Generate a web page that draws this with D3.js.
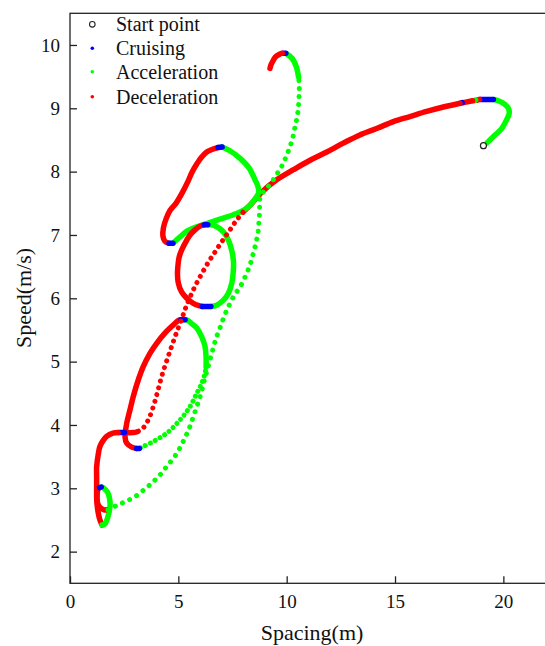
<!DOCTYPE html>
<html>
<head>
<meta charset="utf-8">
<script src="https://cdn.jsdelivr.net/npm/d3@7"></script>
<style>
  body { margin: 0; background: #fff; }
  svg text { font-family: "Liberation Serif", "Times New Roman", Times, serif !important; }
</style>
</head>
<body>
<div id="chart"></div>
<script>
// chart size
var chart_width = 545;
var chart_height = 646;

// --- data: [spacing (m), speed (m/s)] ---
var xTicks = [0, 5, 10, 15, 20];
var yTicks = [2, 3, 4, 5, 6, 7, 8, 9, 10];
var legendLabels = ["Start point", "Cruising", "Acceleration", "Deceleration"];

var startPoint = [19.08, 8.41];

// first climb, cruise and the long slow braking arc
var accStart = [[19.23, 8.45], [19.38, 8.50], [19.62, 8.58], [19.92, 8.68], [20.15, 8.82], [20.27, 8.92], [20.23, 9.0], [20.0, 9.08], [19.69, 9.13], [19.54, 9.14]];
var cruiseTop = [[19.54, 9.14], [18.95, 9.14]];
var decTop1 = [[18.9, 9.14], [18.8, 9.13]];
var accTop = [[18.72, 9.13], [18.66, 9.12]];
var decTop2 = [[18.58, 9.12], [18.16, 9.09]];
var cruiseTop2 = [[18.1, 9.09], [18.02, 9.08]];
var decArc = [[18.0, 9.08], [17.23, 9.02], [16.46, 8.95], [15.69, 8.87], [14.92, 8.79], [14.15, 8.68], [13.38, 8.58], [12.61, 8.45], [11.85, 8.31], [11.08, 8.18], [10.31, 8.03], [9.54, 7.87], [8.86, 7.68], [8.31, 7.47], [7.98, 7.36]];
var decDive = [[7.98, 7.36], [7.66, 7.22], [7.34, 7.06], [7.02, 6.90], [6.69, 6.73], [6.37, 6.56], [6.05, 6.37], [5.77, 6.19], [5.54, 6.02], [5.35, 5.86], [5.17, 5.69], [4.94, 5.48], [4.71, 5.26], [4.48, 5.03], [4.25, 4.79], [4.06, 4.55], [3.88, 4.33], [3.65, 4.11], [3.37, 3.95], [3.09, 3.89]];

// upper loop
var upCruise = [[7.02, 8.39], [6.83, 8.38]];
var upDec = [[6.83, 8.38], [6.55, 8.35], [6.31, 8.31], [6.05, 8.22], [5.85, 8.12], [5.63, 7.99], [5.45, 7.85], [5.17, 7.66], [4.89, 7.5], [4.62, 7.39], [4.43, 7.25], [4.31, 7.11], [4.29, 6.98], [4.38, 6.9], [4.54, 6.87]];
var upCruise2 = [[4.57, 6.87], [4.75, 6.87]];
var upAcc = [[4.75, 6.87], [5.08, 6.97], [5.35, 7.05], [5.69, 7.11], [6.31, 7.18], [6.92, 7.25], [7.54, 7.32], [8.0, 7.39], [8.31, 7.47], [8.54, 7.57], [8.7, 7.66], [8.68, 7.76], [8.54, 7.87], [8.26, 8.06], [7.85, 8.21], [7.38, 8.33], [7.02, 8.39]];

// middle oval
var midCruise = [[6.36, 7.16], [6.2, 7.16]];
var midDec = [[6.2, 7.16], [6.0, 7.14], [5.77, 7.08], [5.54, 7.0], [5.39, 6.92], [5.15, 6.76], [5.03, 6.64], [4.98, 6.51], [4.96, 6.38], [5.0, 6.24], [5.15, 6.1], [5.39, 6.0], [5.69, 5.92], [6.0, 5.88], [6.1, 5.87]];
var midCruise2 = [[6.1, 5.87], [6.5, 5.87]];
var midAcc = [[6.5, 5.87], [6.77, 5.89], [7.08, 5.97], [7.31, 6.08], [7.46, 6.23], [7.54, 6.45], [7.54, 6.6], [7.46, 6.76], [7.31, 6.92], [7.08, 7.05], [6.77, 7.13], [6.5, 7.16], [6.36, 7.16]];

// lower loop
var lowCruise = [[5.31, 5.66], [5.12, 5.66]];
var lowDec = [[5.12, 5.66], [5.0, 5.65], [4.77, 5.58], [4.38, 5.45], [4.0, 5.29], [3.69, 5.13], [3.38, 4.92], [3.15, 4.71], [2.92, 4.45], [2.77, 4.24], [2.62, 4.03], [2.54, 3.81], [2.62, 3.71], [2.85, 3.65], [3.05, 3.63]];
var lowCruise2 = [[3.07, 3.63], [3.2, 3.63]];
var lowAccBottom = [[3.25, 3.64], [3.38, 3.66], [3.85, 3.74], [4.46, 3.87], [5.08, 4.08], [5.54, 4.29], [5.85, 4.5], [6.08, 4.66], [6.23, 4.82], [6.28, 4.92]];
var lowAccSide = [[6.28, 4.92], [6.28, 5.08], [6.23, 5.24], [6.08, 5.39], [5.85, 5.53], [5.62, 5.6], [5.39, 5.66], [5.31, 5.66]];

// step to the far left and the small loop at the bottom
var leftDec1 = [[3.09, 3.89], [2.92, 3.88], [2.55, 3.88]];
var leftCruise = [[2.52, 3.88], [2.25, 3.88]];
var leftDec2 = [[2.22, 3.88], [1.98, 3.87], [1.69, 3.82], [1.54, 3.76], [1.38, 3.66], [1.31, 3.55], [1.23, 3.34], [1.23, 3.18], [1.23, 3.02], [1.23, 2.86], [1.25, 2.74], [1.31, 2.6], [1.38, 2.5], [1.48, 2.42]];
var loopAcc = [[1.48, 2.42], [1.62, 2.44], [1.71, 2.51], [1.8, 2.62], [1.85, 2.74], [1.82, 2.85], [1.73, 2.94], [1.57, 3.0], [1.47, 3.02]];
var loopCruise = [[1.44, 3.02], [1.36, 3.01]];
var loopDec = [[1.34, 3.01], [1.27, 2.96], [1.25, 2.86], [1.27, 2.77], [1.38, 2.7], [1.57, 2.66], [1.68, 2.66]];

// final long acceleration and the hook at the top
var accFinal = [[1.75, 2.66], [2.22, 2.74], [2.63, 2.80], [3.05, 2.88], [3.46, 2.99], [3.83, 3.10], [4.2, 3.23], [4.52, 3.37], [4.85, 3.51], [5.12, 3.67], [5.35, 3.83], [5.54, 3.98], [5.72, 4.16], [5.91, 4.35], [6.05, 4.50], [6.18, 4.68], [6.32, 4.85], [6.46, 5.03], [6.6, 5.2], [6.74, 5.37], [6.92, 5.53], [7.11, 5.71], [7.34, 5.89], [7.57, 6.04], [7.85, 6.18], [8.08, 6.34], [8.31, 6.53], [8.45, 6.70], [8.58, 6.87], [8.68, 7.05], [8.72, 7.22], [8.75, 7.39], [8.75, 7.55], [8.86, 7.65], [9.09, 7.74], [9.32, 7.84], [9.55, 7.96], [9.78, 8.09], [9.99, 8.25], [10.15, 8.39], [10.29, 8.55], [10.38, 8.70], [10.48, 8.86], [10.54, 9.02], [10.57, 9.18], [10.58, 9.34], [10.55, 9.49]];
var accHook = [[10.55, 9.49], [10.45, 9.65], [10.25, 9.79], [10.0, 9.86]];
var hookCruise = [[9.96, 9.87], [9.84, 9.87]];
var hookDec = [[9.8, 9.87], [9.65, 9.85], [9.48, 9.81], [9.37, 9.75], [9.28, 9.69], [9.23, 9.63]];

// table of runs: name, state, points
var runs = [
  ["accStart", "acc", accStart], ["cruiseTop", "cru", cruiseTop], ["decTop1", "dec", decTop1],
  ["accTop", "acc", accTop], ["decTop2", "dec", decTop2], ["cruiseTop2", "cru", cruiseTop2],
  ["decArc", "dec", decArc],
  ["upAcc", "acc", upAcc], ["upDec", "dec", upDec], ["upCruise", "cru", upCruise], ["upCruise2", "cru", upCruise2],
  ["midAcc", "acc", midAcc], ["midDec", "dec", midDec], ["midCruise", "cru", midCruise], ["midCruise2", "cru", midCruise2],
  ["lowAccBottom", "acc", lowAccBottom], ["lowAccSide", "acc", lowAccSide], ["lowDec", "dec", lowDec],
  ["lowCruise", "cru", lowCruise], ["lowCruise2", "cru", lowCruise2],
  ["decDive", "dec", decDive],
  ["leftDec1", "dec", leftDec1], ["leftCruise", "cru", leftCruise], ["leftDec2", "dec", leftDec2],
  ["loopAcc", "acc", loopAcc], ["loopDec", "dec", loopDec], ["loopCruise", "cru", loopCruise],
  ["accFinal", "acc", accFinal], ["accHook", "acc", accHook], ["hookCruise", "cru", hookCruise], ["hookDec", "dec", hookDec]
];

// styles
var colour = {cru: "#0000ff", acc: "#00ff00", dec: "#ff0000"};
var dotGap = {decDive: 7, lowAccBottom: 5.5, accFinal: 8};
var serif = "'Liberation Serif', 'Times New Roman', Times, serif";

var x = d3.scaleLinear().domain([0, 22]).range([70, 546.7]);
var y = d3.scaleLinear().domain([1.5, 10.5]).range([583.3, 13.3]);

var svg = d3.select("#chart").append("svg")
  .attr("width", chart_width)
  .attr("height", chart_height);

var line = d3.line()
  .x(function(d) { return x(d[0]); })
  .y(function(d) { return y(d[1]); })
  .curve(d3.curveCatmullRom.alpha(0.5));

svg.selectAll("path.run").data(runs).enter().append("path")
  .attr("class", "run")
  .attr("d", function(d) { return line(d[2]); })
  .attr("fill", "none")
  .attr("stroke", function(d) { return colour[d[1]]; })
  .attr("stroke-width", function(d) { return dotGap[d[0]] ? 5 : 5.5; })
  .attr("stroke-linecap", "round")
  .attr("stroke-linejoin", "round")
  .attr("stroke-dasharray", function(d) { return dotGap[d[0]] ? "0.01 " + dotGap[d[0]] : null; });

// start point
svg.append("circle")
  .attr("cx", x(startPoint[0]))
  .attr("cy", y(startPoint[1]))
  .attr("r", 3)
  .attr("fill", "#fff")
  .attr("stroke", "#222")
  .attr("stroke-width", 1.2);

// axes
var xAxis = svg.append("g")
  .attr("transform", "translate(0," + y(1.5) + ")")
  .call(d3.axisBottom(x).tickValues(xTicks).tickSizeInner(-7).tickSizeOuter(0).tickPadding(11));
var yAxis = svg.append("g")
  .attr("transform", "translate(" + x(0) + ",0)")
  .call(d3.axisLeft(y).tickValues(yTicks).tickSizeInner(-7).tickSizeOuter(0).tickPadding(10));

[xAxis, yAxis].forEach(function(g) {
  g.select(".domain").remove();
  g.attr("font-family", serif).attr("font-size", 19);
  g.selectAll("line").attr("stroke", "#222").attr("stroke-width", 1.3);
  g.selectAll("text").attr("fill", "#111").style("font-family", serif);
});

// frame
svg.append("rect")
  .attr("x", x(0)).attr("y", y(10.5))
  .attr("width", x(22) - x(0)).attr("height", y(1.5) - y(10.5))
  .attr("fill", "none")
  .attr("stroke", "#222")
  .attr("stroke-width", 1.3);

// axis titles
svg.append("text")
  .attr("x", 312).attr("y", 640)
  .attr("text-anchor", "middle")
  .attr("font-size", 22)
  .attr("fill", "#111")
  .style("font-family", serif)
  .text("Spacing(m)");
svg.append("text")
  .attr("transform", "translate(31,298) rotate(-90)")
  .attr("text-anchor", "middle")
  .attr("font-size", 22)
  .attr("fill", "#111")
  .style("font-family", serif)
  .text("Speed(m/s)");

// legend
var legendY = [24.3, 48.3, 71.7, 96.7];
var legendColour = [null, colour.cru, colour.acc, colour.dec];
var legend = svg.append("g");
legendLabels.forEach(function(label, i) {
  if (i === 0) {
    legend.append("circle").attr("cx", 92.3).attr("cy", legendY[i]).attr("r", 2.8)
      .attr("fill", "#fff").attr("stroke", "#222").attr("stroke-width", 1.1);
  } else {
    legend.append("circle").attr("cx", 92.3).attr("cy", legendY[i]).attr("r", 1.8)
      .attr("fill", legendColour[i]);
  }
  legend.append("text")
    .attr("x", 116).attr("y", legendY[i] + 7)
    .attr("font-size", 20)
    .attr("fill", "#111")
    .style("font-family", serif)
    .text(label);
});
</script>
</body>
</html>
